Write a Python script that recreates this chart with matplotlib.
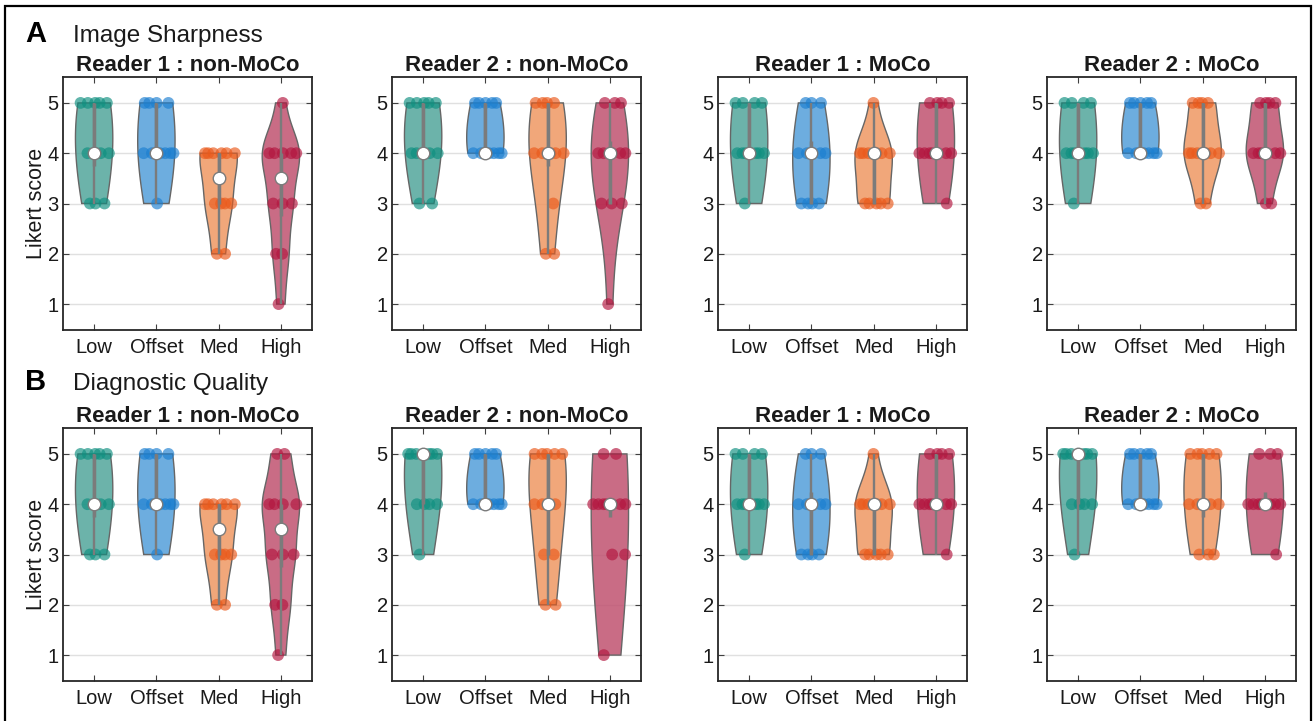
import numpy as np
import matplotlib
matplotlib.use("Agg")
import matplotlib.pyplot as plt
from matplotlib.patches import Rectangle
from matplotlib.colors import to_rgba

plt.rcParams['font.family'] = ['Liberation Sans', 'DejaVu Sans']

categories = ["Low", "Offset", "Med", "High"]
scores = [1, 2, 3, 4, 5]

# Number of ratings at each Likert score (1..5); one row per category (Low, Offset, Med, High)
sharp_r1_nonmoco = [[0, 0, 3, 4, 5], [0, 0, 1, 7, 4], [0, 2, 4, 6, 0], [1, 2, 3, 5, 1]]
sharp_r2_nonmoco = [[0, 0, 2, 5, 5], [0, 0, 0, 7, 5], [0, 2, 1, 5, 4], [1, 0, 3, 5, 3]]
sharp_r1_moco = [[0, 0, 1, 7, 4], [0, 0, 4, 5, 3], [0, 0, 5, 6, 1], [0, 0, 1, 7, 4]]
sharp_r2_moco = [[0, 0, 1, 7, 4], [0, 0, 0, 7, 5], [0, 0, 2, 6, 4], [0, 0, 2, 6, 4]]
diag_r1_nonmoco = [[0, 0, 3, 4, 5], [0, 0, 1, 7, 4], [0, 2, 4, 6, 0], [1, 2, 3, 4, 2]]
diag_r2_nonmoco = [[0, 0, 1, 4, 7], [0, 0, 0, 7, 5], [0, 2, 2, 3, 5], [1, 0, 2, 7, 2]]
diag_r1_moco = [[0, 0, 1, 7, 4], [0, 0, 4, 5, 3], [0, 0, 5, 6, 1], [0, 0, 1, 7, 4]]
diag_r2_moco = [[0, 0, 1, 4, 7], [0, 0, 0, 7, 5], [0, 0, 3, 4, 5], [0, 0, 1, 8, 3]]

panel_titles = ["Reader 1 : non-MoCo", "Reader 2 : non-MoCo",
                "Reader 1 : MoCo", "Reader 2 : MoCo"]
row_letters = ["A", "B"]
row_titles = ["Image Sharpness", "Diagnostic Quality"]
row_panels = [[sharp_r1_nonmoco, sharp_r2_nonmoco, sharp_r1_moco, sharp_r2_moco],
              [diag_r1_nonmoco, diag_r2_nonmoco, diag_r1_moco, diag_r2_moco]]

fill_colors = ["#52a69b", "#539fda", "#ef9863", "#c05270"]
dot_colors = ["#0f8f80", "#1c7fd0", "#ea5a1c", "#b3163f"]
GREY = "#7b7b7b"

W, H = 1314, 721


def ks_bandwidth(x):
    # robust normal-reference bandwidth (MAD based), range fallback
    sig = np.median(np.abs(x - np.median(x))) / 0.6745
    if sig <= 0:
        sig = x.max() - x.min()
    return sig * (4.0 / (3.0 * len(x))) ** 0.2


def draw_violin(ax, pos, counts, fc, dc):
    data = np.repeat(scores, counts).astype(float)
    bw = ks_bandwidth(data)
    yy = np.linspace(data.min(), data.max(), 200)
    dens = np.exp(-0.5 * ((yy[:, None] - data[None, :]) / bw) ** 2).sum(axis=1)
    hw = 0.3 * dens / dens.max()
    ax.fill(np.r_[pos + hw, pos - hw[::-1]], np.r_[yy, yy[::-1]],
            facecolor=to_rgba(fc, 0.85), edgecolor="#666666", lw=1.0, zorder=2)

    # jittered ratings, spread within the violin width at each score
    vals, cnts = np.unique(data, return_counts=True)
    for v, c in zip(vals, cnts):
        w = np.interp(v, yy, hw)
        k = np.arange(c)
        frac = (k * 0.618034 + 0.37 * v + 0.21 * pos) % 1.0
        xs = pos + 0.95 * w * (2 * frac - 1)
        ax.scatter(xs, np.full(c, v), s=72, color=dc, alpha=0.66,
                   edgecolors="none", zorder=3)

    q1, med, q3 = np.percentile(data, [25, 50, 75])
    iqr = q3 - q1
    lo = data[data >= q1 - 1.5 * iqr].min()
    hi = data[data <= q3 + 1.5 * iqr].max()
    ax.plot([pos, pos], [lo, hi], color=GREY, lw=1.7, zorder=4,
            solid_capstyle="butt")
    ax.plot([pos, pos], [q1, q3], color=GREY, lw=2.5, zorder=4,
            solid_capstyle="butt")
    ax.plot(pos, med, "o", ms=9, mfc="white", mec=GREY, mew=1.0, zorder=5)


fig = plt.figure(figsize=(W / 100, H / 100), dpi=100)

col_left = [63, 392, 718, 1047]
row_top = [77, 428]
ax_w, ax_h = 249, 253

for r in range(2):
    for c in range(4):
        left = col_left[c] / W
        bottom = 1 - (row_top[r] + ax_h) / H
        ax = fig.add_axes([left, bottom, ax_w / W, ax_h / H])
        panel = row_panels[r][c]
        for i, counts in enumerate(panel):
            draw_violin(ax, i + 1, counts, fill_colors[i], dot_colors[i])
        ax.set_xlim(0.5, 4.5)
        ax.set_ylim(0.485, 5.515)
        ax.set_xticks(range(1, 5))
        ax.set_xticklabels(categories)
        ax.set_yticks(scores)
        ax.yaxis.grid(True, color="#e0e0e0", lw=1.0)
        ax.set_axisbelow(True)
        ax.tick_params(direction="in", length=4, width=0.8, color="#404040",
                       top=True, right=True, labelsize=14.5, labelcolor="#1a1a1a")
        ax.tick_params(axis="x", pad=6)
        ax.tick_params(axis="y", pad=3)
        for s in ax.spines.values():
            s.set_linewidth(1.3)
            s.set_color("#262626")
        ax.set_title(panel_titles[c], fontsize=16, fontweight="bold",
                     pad=4.5, color="#1a1a1a")
        if c == 0:
            yc = 1 - (row_top[r] + ax_h / 2) / H
            fig.text(37 / W, yc, "Likert score", rotation=90, ha="center",
                     va="center", fontsize=15.5, color="#1a1a1a")

for r, base in enumerate([42, 390]):
    fig.text(25 / W, 1 - base / H, row_letters[r], fontsize=21,
             fontweight="bold", va="baseline", ha="left")
    fig.text(73 / W, 1 - base / H, row_titles[r], fontsize=17.5,
             va="baseline", ha="left", color="#1a1a1a")

fig.add_artist(Rectangle((5 / W, -0.05), (1311 - 5) / W, 1.05 - 6 / H,
                         transform=fig.transFigure, fill=False,
                         edgecolor="black", lw=1.6))

fig.savefig("out.png", dpi=100)
